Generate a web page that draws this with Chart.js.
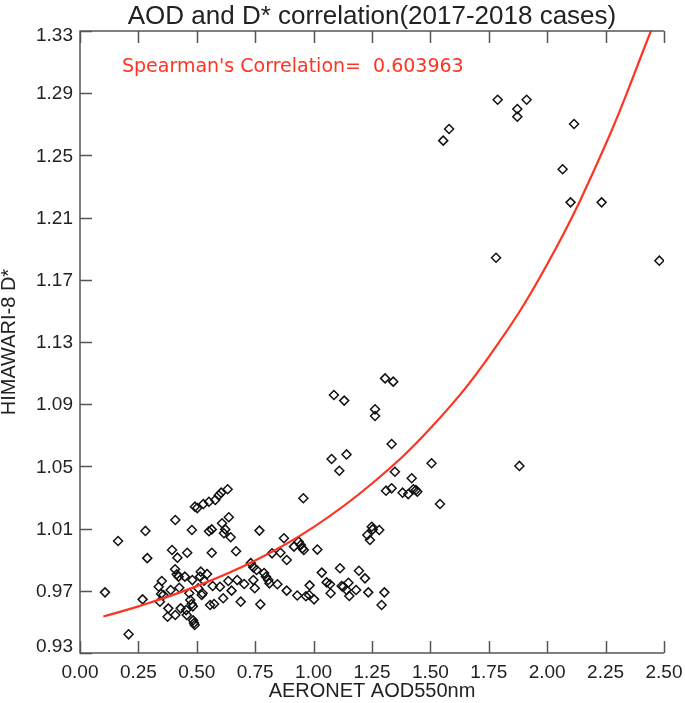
<!DOCTYPE html>
<html>
<head>
<meta charset="utf-8">
<script src="https://cdn.jsdelivr.net/npm/chart.js@4.4.1/dist/chart.umd.min.js"></script>
<style>
  body { margin: 0; background: #fff; }
  #wrap { width: 685px; height: 703px; position: relative; }
</style>
</head>
<body>
<div id="wrap"><canvas id="myChart"></canvas></div>
<script>
// AERONET AOD vs HIMAWARI-8 D*
let aodX = [0.107, 0.163, 0.208, 0.268, 0.280, 0.288, 0.337, 0.350, 0.347, 0.357,
  0.342, 0.378, 0.375, 0.388, 0.394, 0.408, 0.408, 0.407, 0.414, 0.417,
  0.422, 0.425, 0.431, 0.449, 0.454, 0.457, 0.459, 0.468, 0.472, 0.478,
  0.483, 0.479, 0.481, 0.484, 0.488, 0.491, 0.492, 0.502, 0.514, 0.517,
  0.506, 0.521, 0.525, 0.528, 0.531, 0.544, 0.552, 0.552, 0.557, 0.564,
  0.564, 0.568, 0.574, 0.579, 0.594, 0.599, 0.604, 0.608, 0.613, 0.616,
  0.622, 0.632, 0.637, 0.635, 0.645, 0.649, 0.668, 0.673, 0.688, 0.703,
  0.748, 0.742, 0.768, 0.772, 0.731, 0.742, 0.756, 0.788, 0.796, 0.806,
  0.811, 0.822, 0.845, 0.858, 0.873, 0.885, 0.885, 0.916, 0.936, 0.945,
  0.952, 0.958, 1.016, 0.930, 0.967, 0.981, 1.002, 0.983, 0.956, 1.035,
  1.056, 1.070, 1.073, 1.113, 1.120, 1.127, 1.141, 1.149, 1.153, 1.182,
  1.194, 1.220, 1.234, 1.230, 1.241, 1.249, 1.253, 1.281, 1.303, 1.291,
  1.310, 1.334, 1.381, 1.405, 1.427, 1.438, 1.444, 1.541, 1.306, 1.341,
  1.087, 1.131, 1.263, 1.263, 1.334, 1.077, 1.141, 1.110, 1.348, 1.505,
  1.881, 1.420, 1.788, 1.912, 1.872, 1.872, 1.580, 1.555, 2.115, 2.066,
  2.100, 2.233, 1.781, 2.480];
let dstarY = [0.969, 1.002, 0.942, 0.9645, 1.0085, 0.991, 0.9726, 0.9763, 0.968, 0.9673,
  0.963, 0.9587, 0.9533, 0.9705, 0.9962, 1.0155, 0.9544, 0.9838, 0.9806, 0.9913,
  0.9791, 0.972, 0.9587, 0.9791, 0.9576, 0.9544, 0.9945, 0.9684, 0.9641, 0.9615,
  0.960, 1.0091, 0.9769, 0.951, 0.9493, 0.948, 1.0241, 1.0232, 0.9791, 0.9823,
  0.9716, 0.9673, 0.9684, 1.0258, 0.9765, 0.9808, 1.0273, 1.0083, 0.9609, 1.0095,
  0.9945, 0.9731, 0.9615, 1.0284, 1.0314, 0.9726, 1.0331, 1.0134, 0.9652, 1.007,
  1.0095, 1.0353, 1.0173, 0.9763, 1.0044, 0.9701, 0.9954, 0.9769, 0.963, 0.9744,
  0.9716, 0.9769, 1.0087, 0.9613, 0.9878, 0.9851, 0.9834, 0.9814, 0.979, 0.977,
  0.9748, 0.9941, 0.9742, 0.9945, 1.0038, 0.9898, 0.9701, 0.9984, 1.0016, 0.9995,
  0.9973, 0.9962, 0.9965, 0.967, 0.9665, 0.9673, 0.9645, 0.9735, 1.0295, 0.9817,
  0.9754, 0.9742, 0.9684, 0.9845, 0.9731, 0.9726, 0.9705, 0.9752, 0.9667, 0.9705,
  0.9829, 0.978, 0.969, 1.0059, 1.0027, 1.0112, 1.0095, 1.0091, 0.969, 0.9609,
  1.0344, 1.0359, 1.0331, 1.0322, 1.0353, 1.0348, 1.0337, 1.0258, 1.1066, 1.1045,
  1.0959, 1.0923, 1.0867, 1.0824, 1.0644, 1.0548, 1.0577, 1.0472, 1.0466, 1.052,
  1.0503, 1.0424, 1.2858, 1.2858, 1.2798, 1.2749, 1.267, 1.2595, 1.2702, 1.2411,
  1.2198, 1.2198, 1.1842, 1.1823];

// red fit curve
let fitX = [0.10, 0.25, 0.50, 0.75, 1.00, 1.25, 1.50, 1.75, 2.00, 2.25, 2.444];
let fitY = [0.9535, 0.960, 0.973, 0.9895, 1.011, 1.039, 1.0745, 1.1205, 1.180, 1.257, 1.33];

let xTicks = [0.00, 0.25, 0.50, 0.75, 1.00, 1.25, 1.50, 1.75, 2.00, 2.25, 2.50];
let yTicks = [0.93, 0.97, 1.01, 1.05, 1.09, 1.13, 1.17, 1.21, 1.25, 1.29, 1.33];

const chartTitle = 'AOD and D* correlation(2017-2018 cases)';
const xTitle = 'AERONET AOD550nm';
const yTitle = 'HIMAWARI-8 D*';
const corrText = "Spearman's Correlation=  0.603963";

const scatterPts = aodX.map((x, i) => ({ x: x, y: dstarY[i] }));
const fitPts = fitX.map((x, i) => ({ x: x, y: fitY[i] }));

// frame, inward ticks and all the texts
const idlAxes = {
  id: 'idlAxes',
  afterDraw(chart) {
    const ctx = chart.ctx;
    const a = chart.chartArea;
    const xs = chart.scales.x, ys = chart.scales.y;
    ctx.save();
    ctx.strokeStyle = '#555';
    ctx.lineWidth = 1.5;
    ctx.beginPath();
    ctx.moveTo(a.right, a.top);
    ctx.lineTo(a.left, a.top);
    ctx.lineTo(a.left, a.bottom);
    ctx.lineTo(a.right, a.bottom);
    xTicks.forEach(v => {
      const px = Math.round(xs.getPixelForValue(v)) + 0.5;
      ctx.moveTo(px, a.bottom); ctx.lineTo(px, a.bottom - 12);
      ctx.moveTo(px, a.top); ctx.lineTo(px, a.top + 12);
    });
    yTicks.forEach(v => {
      const py = Math.round(ys.getPixelForValue(v)) + 0.5;
      ctx.moveTo(a.left, py); ctx.lineTo(a.left + 12, py);
    });
    ctx.stroke();

    ctx.fillStyle = '#222';
    ctx.font = '19px "Liberation Sans", Arial, sans-serif';
    ctx.textAlign = 'center';
    ctx.textBaseline = 'alphabetic';
    xTicks.forEach(v => {
      ctx.fillText(v.toFixed(2), xs.getPixelForValue(v), a.bottom + 25);
    });
    ctx.textAlign = 'right';
    ctx.textBaseline = 'middle';
    yTicks.forEach(v => {
      let cy = ys.getPixelForValue(v) + 1;
      cy = Math.min(Math.max(cy, a.top + 5), a.bottom - 6);
      ctx.fillText(v.toFixed(2), a.left - 7, cy);
    });

    ctx.textAlign = 'center';
    ctx.textBaseline = 'alphabetic';
    ctx.font = '20px "Liberation Sans", Arial, sans-serif';
    ctx.fillText(xTitle, (a.left + a.right) / 2, 697);
    ctx.save();
    ctx.translate(9, (a.top + a.bottom) / 2);
    ctx.rotate(-Math.PI / 2);
    ctx.textBaseline = 'middle';
    ctx.fillText(yTitle, 0, 0);
    ctx.restore();

    ctx.font = '26px "Liberation Sans", Arial, sans-serif';
    ctx.fillText(chartTitle, (a.left + a.right) / 2, 24);

    ctx.fillStyle = '#ff3322';
    ctx.textAlign = 'left';
    ctx.font = '19px "DejaVu Sans", sans-serif';
    ctx.fillText(corrText, 122, 72);
    ctx.restore();
  }
};

const ctx = document.getElementById('myChart');
let chart = new Chart(ctx, {
  type: 'scatter',
  data: {
    datasets: [{
      label: 'fit',
      data: fitPts,
      showLine: true,
      borderColor: '#ff3322',
      borderWidth: 2.2,
      pointRadius: 0,
      tension: 0.4,
      order: 0
    }, {
      label: 'cases',
      data: scatterPts,
      pointStyle: 'rectRot',
      pointRadius: 4.5,
      borderColor: '#111',
      borderWidth: 1.5,
      backgroundColor: 'rgba(0,0,0,0)',
      order: 1
    }]
  },
  options: {
    responsive: true,
    maintainAspectRatio: false,
    animation: false,
    layout: { padding: { left: 0, right: 21, top: 31, bottom: 0 } },
    plugins: {
      legend: { display: false },
      tooltip: { enabled: false },
      title: { display: false }
    },
    scales: {
      x: {
        type: 'linear', min: 0, max: 2.5,
        grid: { display: false }, border: { display: false },
        ticks: { display: false, stepSize: 0.25 },
        afterFit(s) { s.height = 50; }
      },
      y: {
        type: 'linear', min: 0.93, max: 1.33,
        grid: { display: false }, border: { display: false },
        ticks: { display: false, stepSize: 0.04 },
        afterFit(s) { s.width = 80; }
      }
    }
  },
  plugins: [idlAxes]
});
</script>
</body>
</html>
